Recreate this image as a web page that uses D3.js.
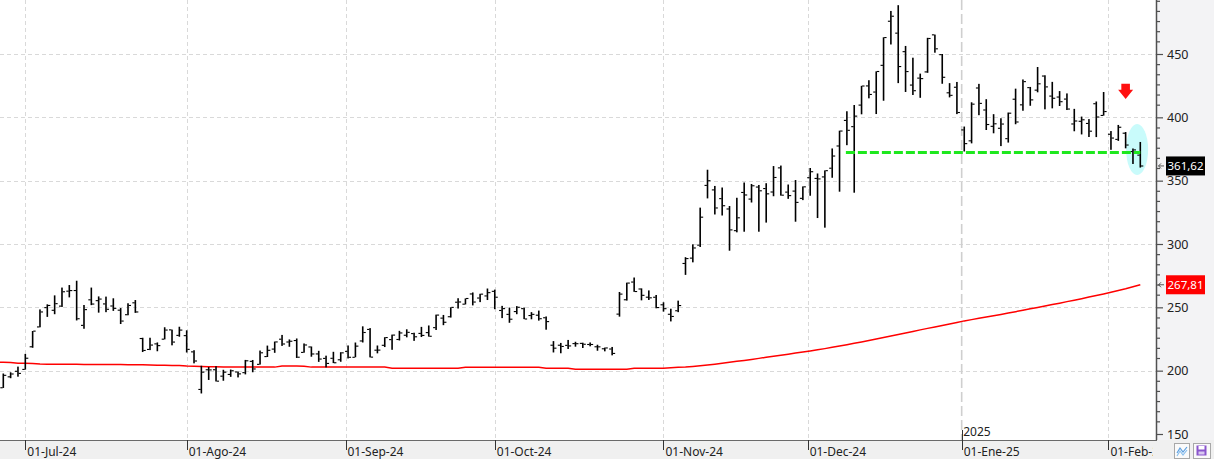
<!DOCTYPE html>
<html><head><meta charset="utf-8">
<script src="https://cdn.jsdelivr.net/npm/d3@7"></script>
<style>
html,body{margin:0;padding:0;background:#fff;overflow:hidden}
svg{display:block;font-family:"Noto Sans",sans-serif}
</style></head><body>
<svg id="c" width="1214" height="459"></svg>
<script>
// ---------- DATA ----------
const dates = [
"2024-06-26","2024-06-27","2024-06-28",
"2024-07-01","2024-07-02","2024-07-03","2024-07-05","2024-07-08","2024-07-09","2024-07-10","2024-07-11","2024-07-12","2024-07-15","2024-07-16","2024-07-17","2024-07-18","2024-07-19","2024-07-22","2024-07-23","2024-07-24","2024-07-25","2024-07-26","2024-07-29","2024-07-30","2024-07-31",
"2024-08-01","2024-08-02","2024-08-05","2024-08-06","2024-08-07","2024-08-08","2024-08-09","2024-08-12","2024-08-13","2024-08-14","2024-08-15","2024-08-16","2024-08-19","2024-08-20","2024-08-21","2024-08-22","2024-08-23","2024-08-26","2024-08-27","2024-08-28","2024-08-29","2024-08-30",
"2024-09-03","2024-09-04","2024-09-05","2024-09-06","2024-09-09","2024-09-10","2024-09-11","2024-09-12","2024-09-13","2024-09-16","2024-09-17","2024-09-18","2024-09-19","2024-09-20","2024-09-23","2024-09-24","2024-09-25","2024-09-26","2024-09-27","2024-09-30",
"2024-10-01","2024-10-02","2024-10-03","2024-10-04","2024-10-07","2024-10-08","2024-10-09","2024-10-10","2024-10-11","2024-10-14","2024-10-15","2024-10-16","2024-10-17","2024-10-18","2024-10-21","2024-10-22","2024-10-23","2024-10-24","2024-10-25","2024-10-28","2024-10-29","2024-10-30","2024-10-31",
"2024-11-01","2024-11-04","2024-11-05","2024-11-06","2024-11-07","2024-11-08","2024-11-11","2024-11-12","2024-11-13","2024-11-14","2024-11-15","2024-11-18","2024-11-19","2024-11-20","2024-11-21","2024-11-22","2024-11-25","2024-11-26","2024-11-27","2024-11-29",
"2024-12-02","2024-12-03","2024-12-04","2024-12-05","2024-12-06","2024-12-09","2024-12-10","2024-12-11","2024-12-12","2024-12-13","2024-12-16","2024-12-17","2024-12-18","2024-12-19","2024-12-20","2024-12-23","2024-12-24","2024-12-26","2024-12-27","2024-12-30","2024-12-31",
"2025-01-02","2025-01-03","2025-01-06","2025-01-07","2025-01-08","2025-01-10","2025-01-13","2025-01-14","2025-01-15","2025-01-16","2025-01-17","2025-01-21","2025-01-22","2025-01-23","2025-01-24","2025-01-27","2025-01-28","2025-01-29","2025-01-30","2025-01-31",
"2025-02-03","2025-02-04","2025-02-05","2025-02-06","2025-02-07"];

const open = [186.54,195.17,199.55,
201.02,218.89,234.56,249.81,247.71,251.00,262.80,263.30,235.80,255.97,255.31,252.73,251.09,247.79,244.21,253.60,225.42,216.80,221.19,224.90,232.25,227.90,
227.69,214.88,185.22,200.75,200.77,195.70,197.05,199.02,198.47,207.39,205.02,211.15,217.07,224.88,222.67,223.82,214.46,218.75,213.25,209.72,209.80,208.63,
215.26,210.59,223.49,232.60,216.20,220.07,224.55,224.66,228.00,229.30,229.45,230.09,234.00,241.52,242.61,254.08,252.54,260.60,257.38,259.04,
262.67,247.55,244.48,246.69,249.00,243.56,243.82,241.81,220.13,220.13,220.01,221.40,221.59,220.71,218.90,217.31,217.13,244.68,256.01,270.00,264.51,258.04,257.99,
252.04,244.56,247.34,284.67,288.89,299.14,346.30,342.74,335.85,327.69,310.57,340.73,335.50,345.00,343.81,341.09,360.14,341.00,341.80,336.08,
352.38,351.80,353.00,359.87,377.42,397.61,392.68,409.70,424.84,420.00,441.09,475.90,466.50,451.88,425.51,431.00,435.90,465.16,449.52,419.40,423.79,
390.10,381.48,423.20,405.83,392.95,391.40,383.21,414.34,409.90,423.49,421.50,432.64,416.81,416.06,414.45,394.80,396.91,395.21,410.78,401.53,
386.68,382.63,387.51,373.03,370.19];

const high = [197.76,198.72,203.20,
213.23,231.30,248.35,252.37,259.44,265.61,267.59,271.00,251.84,265.60,258.62,258.47,257.14,249.44,253.21,255.76,225.99,226.00,222.28,234.27,232.41,234.68,
231.87,216.13,203.88,202.90,203.49,200.70,200.88,199.26,208.49,208.44,215.88,219.80,222.98,228.22,224.66,225.41,221.48,219.09,215.66,211.84,214.89,214.57,
219.90,222.22,235.00,233.60,219.87,226.40,228.47,231.45,232.67,229.96,234.57,235.68,244.24,243.99,250.00,257.19,257.05,261.75,260.70,264.86,
263.98,251.16,249.79,250.96,249.83,246.21,247.43,242.79,223.34,221.91,224.26,222.82,222.08,222.28,220.48,218.22,218.72,262.12,269.49,273.54,264.98,263.35,259.75,
254.00,248.90,255.28,289.59,299.75,328.71,358.64,345.84,344.60,329.98,336.50,348.55,347.38,346.60,347.99,361.53,361.93,346.96,350.50,345.45,
360.00,355.69,358.10,375.43,389.49,404.80,409.73,424.88,429.30,436.30,463.19,483.99,488.54,456.36,447.08,434.51,462.78,465.33,450.00,427.00,427.93,
392.73,411.88,426.43,414.33,402.50,399.28,403.79,422.64,429.90,424.00,439.74,433.20,428.00,420.73,418.88,406.69,400.59,398.59,412.50,419.99,
389.17,394.00,388.39,375.40,380.55];

const low = [186.36,194.05,195.26,
200.85,218.06,234.25,242.46,244.57,250.30,257.86,239.65,233.09,251.73,245.80,246.18,247.20,236.83,243.75,245.63,214.71,216.23,215.33,224.70,220.00,226.79,
214.33,205.78,182.00,192.67,191.48,192.04,195.11,194.67,197.06,198.75,204.82,210.80,214.09,219.56,218.86,210.03,214.21,211.01,206.94,202.59,205.97,207.03,
209.64,210.57,222.25,210.51,213.67,218.64,216.48,223.83,226.32,223.53,226.55,226.88,232.13,235.92,241.92,249.05,252.28,251.53,254.12,255.77,
248.53,241.50,237.81,244.58,240.70,240.56,239.51,232.34,214.38,213.74,217.12,218.93,217.90,219.23,215.73,215.26,212.11,242.65,255.32,262.24,255.51,255.82,249.25,
246.63,238.88,246.21,275.62,285.52,297.66,336.00,323.31,322.50,294.70,309.22,309.70,332.75,309.70,316.90,337.70,338.20,335.66,317.60,334.65,
338.10,320.50,312.90,352.30,341.30,378.01,340.50,402.38,415.00,402.60,413.10,457.51,427.01,420.02,417.64,415.41,435.14,451.02,426.50,415.75,402.54,
373.04,379.45,401.70,390.00,387.40,377.29,380.07,394.54,405.20,409.13,419.75,406.31,407.10,408.95,405.78,389.00,386.50,384.48,384.41,401.34,
374.36,381.40,375.53,363.18,360.34];

const close = [196.37,197.42,197.88,
209.86,231.26,246.39,251.52,252.94,262.33,263.26,241.03,248.23,252.64,256.56,248.50,249.23,239.20,251.51,246.38,215.99,220.25,219.80,232.10,222.62,232.07,
216.86,207.67,198.88,200.64,191.76,198.84,200.00,197.49,207.83,201.38,214.14,216.12,222.72,221.10,223.27,210.66,220.32,213.21,209.21,205.75,206.28,214.11,
210.60,219.41,230.17,210.73,216.27,226.17,228.13,229.81,230.29,226.78,227.87,227.20,243.92,238.25,250.00,254.27,257.02,254.22,260.46,261.63,
258.02,249.02,240.66,250.08,240.83,244.50,241.05,238.77,217.80,219.16,219.57,221.33,220.89,220.70,218.85,217.97,213.65,260.48,269.19,262.51,259.52,257.55,249.85,
248.98,242.84,251.44,288.53,296.91,321.22,350.00,328.49,330.24,311.18,320.72,338.74,346.00,342.03,339.64,352.56,338.59,338.23,332.89,345.16,
357.09,351.42,357.93,369.49,389.22,389.79,400.99,424.77,418.10,436.23,463.02,479.86,440.13,436.17,421.06,430.60,462.28,454.13,431.66,417.41,403.84,
379.28,410.44,411.05,394.36,394.94,394.74,403.31,396.36,428.22,413.82,426.50,424.07,415.11,412.38,406.58,397.15,398.09,389.10,400.28,404.60,
383.68,392.21,378.17,374.32,361.62];

// 200-session moving average; first value belongs to the session before the first bar
const sma = [206.8,
206.6,206.4,205.9,205.8,205.7,205.2,205.1,205.1,205.0,205.0,205.0,204.9,204.9,204.9,204.8,204.8,204.8,204.7,204.7,204.6,204.5,204.3,204.2,204.1,204.0,203.6,203.4,203.3,203.1,203.0,
202.8,202.8,202.8,202.8,202.8,202.8,202.8,202.8,
203.6,203.6,203.6,203.5,
202.8,202.8,202.8,202.8,202.8,202.8,202.8,202.8,202.8,202.8,202.8,
202.0,202.0,202.0,202.0,202.0,202.0,202.0,202.0,202.0,202.0,
202.7,202.7,202.7,202.7,202.7,202.7,202.7,202.7,202.7,202.7,202.7,
202.0,202.0,202.0,202.0,
201.2,201.2,201.2,201.2,201.2,201.2,201.2,201.2,
201.9,201.9,201.9,201.9,
201.9,202.3,202.7,202.9,203.3,203.8,204.4,205.1,205.8,206.6,207.4,208.1,208.9,209.7,210.6,211.4,212.2,213.0,213.9,214.7,
215.6,216.5,217.4,218.4,219.4,220.5,221.6,222.7,223.8,225.0,226.2,227.4,228.6,229.8,231.0,232.2,233.4,234.5,235.7,236.8,238.0,
239.3,240.3,241.3,242.3,243.3,244.4,245.5,246.6,247.7,248.8,249.9,251.0,252.2,253.3,254.5,255.6,256.8,258.1,259.3,260.6,
261.9,263.3,264.6,266.2,267.8];

const yTickValues = [150,200,250,300,350,400,450];
const monthStarts = ["2024-07-01","2024-08-01","2024-09-01","2024-10-01","2024-11-01","2024-12-01","2025-01-01","2025-02-01"];
const monthLabels = ["01-Jul-24","01-Ago-24","01-Sep-24","01-Oct-24","01-Nov-24","01-Dec-24","01-Ene-25","01-Feb-25"];
const yearLabel = "2025";
const supportLevel = 372.3;          // green dashed support
const supportFrom = "2024-12-09", supportTo = "2025-02-07";
const lastClose = 361.62, lastSma = 267.81;
const arrowDate = "2025-02-05", arrowTop = 426.5, arrowBottom = 414.5;
const circleFrom = "2025-02-06", circleTo = "2025-02-07", circleCenter = 374.6;

// ---------- LAYOUT ----------
const W = 1214, H = 459, PR = 1156, PB = 440;
const svg = d3.select("#c");
const x = d3.scaleLinear().domain([0, dates.length - 1]).range([3.3, 1140.3]);
const y = d3.scaleLinear().domain([150, 450]).range([434, 54]);
const step = x(1) - x(0);
const idx = d => dates.indexOf(d);
const fmt = v => v.toFixed(2).replace(".", ",");

svg.append("rect").attr("width", W).attr("height", H).attr("fill", "#fff");
svg.append("rect").attr("x", PR).attr("y", 0).attr("width", W - PR).attr("height", PB).attr("fill", "#f3f3f5");
svg.append("defs").append("clipPath").attr("id", "clip")
  .append("rect").attr("x", 0).attr("y", 0).attr("width", PR).attr("height", PB);

const plot = svg.append("g").attr("clip-path", "url(#clip)");

// horizontal grid
plot.selectAll("line.hg").data(yTickValues.filter(v => v > 150)).join("line")
  .attr("x1", 0).attr("x2", PR).attr("y1", d => Math.round(y(d)) + 0.5).attr("y2", d => Math.round(y(d)) + 0.5)
  .attr("stroke", "#d9d9d9").attr("stroke-dasharray", "4,3");

// month positions
const monthPos = monthStarts.map(ms => {
  const i = dates.findIndex(d => d >= ms);
  return dates[i] === ms ? x(i) : x(i) - 0.35 * step;
});
plot.selectAll("line.vg").data(monthPos.filter((p, k) => monthStarts[k] !== "2025-01-01")).join("line")
  .attr("x1", d => Math.round(d) + 0.5).attr("x2", d => Math.round(d) + 0.5).attr("y1", 0).attr("y2", PB)
  .attr("stroke", "#d9d9d9").attr("stroke-dasharray", "4,3");
const yearPos = monthPos[monthStarts.indexOf("2025-01-01")];
plot.append("line").attr("x1", yearPos).attr("x2", yearPos).attr("y1", 0).attr("y2", PB)
  .attr("stroke", "#cfcfcf").attr("stroke-width", 1.6).attr("stroke-dasharray", "10,4");

// highlight ellipse
const cx = (x(idx(circleFrom)) + x(idx(circleTo))) / 2;
plot.append("ellipse").attr("cx", cx + 0.5).attr("cy", y(circleCenter)).attr("rx", 11).attr("ry", 25.5)
  .attr("fill", "#c9fbfb");

// SMA line
plot.append("path").datum(sma)
  .attr("d", d3.line().x((d, i) => x(i - 1)).y(d => y(d)))
  .attr("fill", "none").attr("stroke", "#ff0000").attr("stroke-width", 1.5);

// OHLC bars
const bars = plot.append("g").attr("fill", "#000");
dates.forEach((d, i) => {
  const cxp = x(i);
  bars.append("rect").attr("x", cxp - 0.8).attr("width", 1.6)
    .attr("y", y(high[i])).attr("height", Math.max(1, y(low[i]) - y(high[i])));
  bars.append("rect").attr("x", cxp - 3).attr("width", 2.4).attr("y", y(open[i]) - 0.5).attr("height", 1.1);
  bars.append("rect").attr("x", cxp + 0.6).attr("width", 2.4).attr("y", y(close[i]) - 0.5).attr("height", 1.1);
});

// support line
plot.append("line").attr("x1", x(idx(supportFrom)) - 1).attr("x2", x(idx(supportTo)))
  .attr("y1", y(supportLevel)).attr("y2", y(supportLevel))
  .attr("stroke", "#1ee81e").attr("stroke-width", 3).attr("stroke-dasharray", "9,3");

// red down arrow
const ax = x(idx(arrowDate)), aT = y(arrowTop), aB = y(arrowBottom), aM = aT + (aB - aT) * 0.4;
plot.append("path")
  .attr("d", `M${ax - 4.3},${aT}H${ax + 4.3}V${aM}H${ax + 7.5}L${ax},${aB}L${ax - 7.5},${aM}H${ax - 4.3}Z`)
  .attr("fill", "#ff1010");

// ---------- RIGHT AXIS ----------
svg.append("line").attr("x1", PR + 0.5).attr("x2", PR + 0.5).attr("y1", 0).attr("y2", PB)
  .attr("stroke", "#505050").attr("stroke-width", 1.5);
const minor = [];
[500, 450, 400, 350, 300, 250, 200].forEach(m => { for (let k = 1; k <= 5; k++) minor.push(m - 8 * k); });
const yAxisMinor = d3.axisRight(y).tickValues(minor.filter(v => y(v) > 0 && y(v) < PB)).tickSize(4).tickFormat("");
const gMinor = svg.append("g").attr("transform", `translate(${PR},0)`).call(yAxisMinor);
const yAxisMajor = d3.axisRight(y).tickValues(yTickValues).tickSize(7).tickPadding(4).tickFormat(d3.format("d"));
const gMajor = svg.append("g").attr("transform", `translate(${PR},0)`).call(yAxisMajor);
[gMinor, gMajor].forEach(g => {
  g.select(".domain").remove();
  g.selectAll(".tick line").attr("stroke", "#505050").attr("stroke-width", 1.2);
});
gMajor.selectAll(".tick text").attr("fill", "#222").attr("font-size", 12.5)
  .attr("font-family", '"Noto Sans",sans-serif');

// value tags
function tag(val, bg) {
  const yy = y(val);
  svg.append("path").attr("d", `M${PR + 8},${yy}H${PR + 2.5}M${PR + 5},${yy - 2.5}L${PR + 2.5},${yy}L${PR + 5},${yy + 2.5}`)
    .attr("stroke", "#555").attr("fill", "none");
  svg.append("rect").attr("x", PR + 10).attr("y", yy - 9.5).attr("width", 39).attr("height", 19).attr("fill", bg);
  svg.append("text").attr("x", PR + 29.5).attr("y", yy).attr("dy", "0.36em").attr("fill", "#fff")
    .attr("text-anchor", "middle").attr("font-size", 11.5).text(fmt(val));
}
tag(lastClose, "#000");
tag(lastSma, "#ff0000");

// ---------- BOTTOM AXIS ----------
svg.append("rect").attr("x", 0).attr("y", PB).attr("width", W).attr("height", H - PB).attr("fill", "#f0f0f0");
svg.append("line").attr("x1", 0).attr("x2", PR + 1).attr("y1", PB + 0.5).attr("y2", PB + 0.5).attr("stroke", "#6a6a6a");
svg.append("defs").append("clipPath").attr("id", "clipx")
  .append("rect").attr("x", 0).attr("y", PB).attr("width", PR - 3).attr("height", H - PB);
const gx = svg.append("g").attr("clip-path", "url(#clipx)");
monthPos.forEach((p, k) => {
  gx.append("line").attr("x1", Math.round(p) + 0.5).attr("x2", Math.round(p) + 0.5)
    .attr("y1", PB).attr("y2", PB + 10).attr("stroke", "#333");
  gx.append("text").attr("x", p + 2).attr("y", 456).attr("font-size", 12).attr("fill", "#222").text(monthLabels[k]);
});
svg.append("line").attr("x1", Math.round(yearPos) + 0.5).attr("x2", Math.round(yearPos) + 0.5)
  .attr("y1", PB - 10).attr("y2", PB).attr("stroke", "#333");
svg.append("text").attr("x", yearPos + 1.5).attr("y", 436).attr("font-size", 12).attr("fill", "#222").text(yearLabel);

// ---------- CORNER BUTTONS ----------
const b1 = svg.append("g");
b1.append("rect").attr("x", 1174.5).attr("y", 443.5).attr("width", 15).attr("height", 15).attr("fill", "#fafafa").attr("stroke", "#a8a8a8");
b1.append("path").attr("d", "M1177,453 L1180,448 L1183,452 L1187,447").attr("fill", "none").attr("stroke", "#5a9ee0").attr("stroke-width", 1.2);
b1.append("path").attr("d", "M1177,456 L1180,451 L1183,455 L1187,450").attr("fill", "none").attr("stroke", "#8cc0ee").attr("stroke-width", 1.2);
const b2 = svg.append("g");
b2.append("rect").attr("x", 1193.5).attr("y", 443.5).attr("width", 17).attr("height", 15).attr("fill", "#fafafa").attr("stroke", "#a8a8a8");
b2.append("rect").attr("x", 1196.5).attr("y", 445.5).attr("width", 10).attr("height", 10).attr("fill", "#8a55cc");
b2.append("rect").attr("x", 1198.5).attr("y", 446).attr("width", 6).attr("height", 3.5).attr("fill", "#fff");
b2.append("rect").attr("x", 1198.5).attr("y", 451.5).attr("width", 6).attr("height", 3).attr("fill", "#d8c8f0");
</script>
</body></html>
